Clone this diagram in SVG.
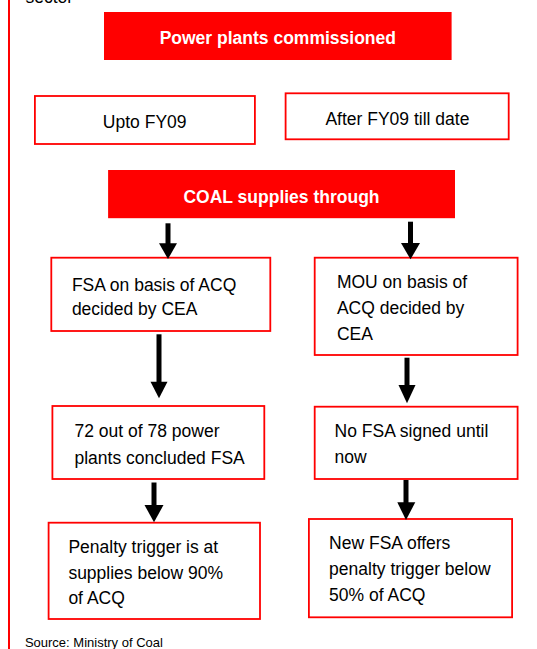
<svg xmlns="http://www.w3.org/2000/svg" width="537" height="649" viewBox="0 0 537 649">
  <style>
    .t { font-family: "Liberation Sans", Arial, sans-serif; font-size: 17.5px; fill: #000; }
    .tb { font-family: "Liberation Sans", Arial, sans-serif; font-size: 17.5px; font-weight: bold; fill: #fff; }
    .box { fill: #fff; stroke: #ff0000; stroke-width: 1.8; }
    .rbox { fill: #ff0000; stroke: none; }
    .shaft { stroke: #000; stroke-width: 5; fill: none; }
    .head { fill: #000; }
  </style>
  <rect x="0" y="0" width="537" height="649" fill="#fff"/>
  <line x1="9" y1="0" x2="9" y2="649" stroke="#ff0000" stroke-width="2"/>
  <text class="t" x="25.5" y="3">sector</text>

  <g id="n-commissioned">
    <rect class="rbox" x="104" y="12" width="347.6" height="48"/>
    <text class="tb" x="277.8" y="44" text-anchor="middle">Power plants commissioned</text>
  </g>
  <g id="n-upto">
    <rect class="box" x="34.9" y="96" width="220" height="48"/>
    <text class="t" x="144.7" y="127.7" text-anchor="middle">Upto FY09</text>
  </g>
  <g id="n-after">
    <rect class="box" x="285.6" y="93.3" width="223.1" height="46"/>
    <text class="t" x="397.4" y="125" text-anchor="middle">After FY09 till date</text>
  </g>
  <g id="n-coal">
    <rect class="rbox" x="108.1" y="170" width="346.9" height="48.2"/>
    <text class="tb" x="281.5" y="202.7" text-anchor="middle">COAL supplies through</text>
  </g>
  <g id="n-fsa">
    <rect class="box" x="51.3" y="257.7" width="219" height="73.3"/>
    <text class="t" x="71.9" y="291">FSA on basis of ACQ</text>
    <text class="t" x="71.9" y="315">decided by CEA</text>
  </g>
  <g id="n-mou">
    <rect class="box" x="314.7" y="257.7" width="202.9" height="97.3"/>
    <text class="t" x="336.9" y="288.3">MOU on basis of</text>
    <text class="t" x="336.9" y="314.3">ACQ decided by</text>
    <text class="t" x="336.9" y="340.3">CEA</text>
  </g>
  <g id="n-72">
    <rect class="box" x="52.4" y="406" width="211.9" height="73"/>
    <text class="t" x="74.5" y="436.7">72 out of 78 power</text>
    <text class="t" x="74.5" y="464">plants concluded FSA</text>
  </g>
  <g id="n-nofsa">
    <rect class="box" x="314.7" y="406.7" width="202.9" height="72.3"/>
    <text class="t" x="334.6" y="436.7">No FSA signed until</text>
    <text class="t" x="334.6" y="463.3">now</text>
  </g>
  <g id="n-penalty90">
    <rect class="box" x="48.6" y="522.7" width="211.4" height="96.3"/>
    <text class="t" x="68.4" y="553.3">Penalty trigger is at</text>
    <text class="t" x="68.4" y="579.3">supplies below 90%</text>
    <text class="t" x="68.4" y="604">of ACQ</text>
  </g>
  <g id="n-penalty50">
    <rect class="box" x="308.9" y="519" width="203.2" height="98.3"/>
    <text class="t" x="329.1" y="549.3">New FSA offers</text>
    <text class="t" x="329.1" y="575">penalty trigger below</text>
    <text class="t" x="329.1" y="600.7">50% of ACQ</text>
  </g>

  <g id="connectors">
    <line class="shaft" x1="168" y1="223.3" x2="168" y2="245"/>
    <polygon class="head" points="159,243.3 177,243.3 168,259"/>
    <line class="shaft" x1="410.5" y1="221.7" x2="410.5" y2="245"/>
    <polygon class="head" points="401,243 420,243 410.5,259.3"/>

    <line class="shaft" x1="159" y1="334.3" x2="159" y2="383"/>
    <polygon class="head" points="150.5,381.7 167.5,381.7 159,398.3"/>
    <line class="shaft" x1="407" y1="357.7" x2="407" y2="386"/>
    <polygon class="head" points="398.5,385 415.5,385 407,403.3"/>

    <line class="shaft" x1="154" y1="482.5" x2="154" y2="506"/>
    <polygon class="head" points="144.5,505 163.5,505 154,522.3"/>
    <line class="shaft" x1="406" y1="480" x2="406" y2="503"/>
    <polygon class="head" points="397.3,502.3 415.3,502.3 406,520"/>
  </g>

  <text x="24.9" y="646.7" style="font-family: 'Liberation Sans', Arial, sans-serif; font-size: 13px; fill: #000;">Source: Ministry of Coal</text>
</svg>
